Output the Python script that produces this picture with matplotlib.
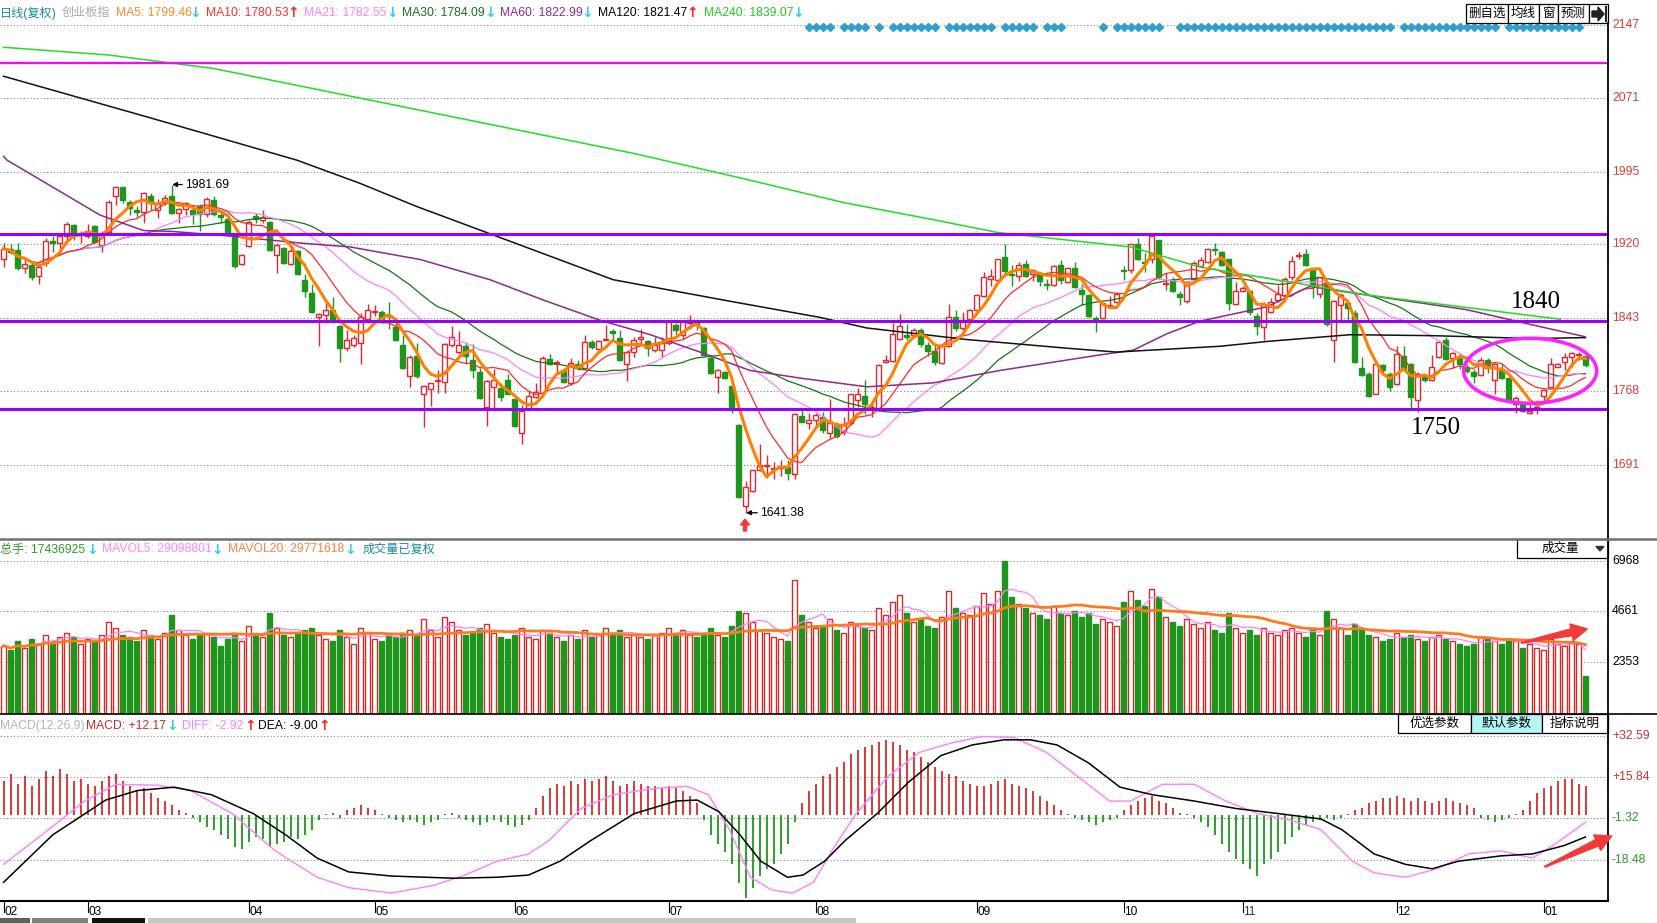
import numpy as np
import pandas as pd
import matplotlib
matplotlib.use('Agg')
import matplotlib.pyplot as plt
from matplotlib.patches import Rectangle, Ellipse, Polygon

plt.rcParams['font.family'] = ['Liberation Sans', 'Noto Sans CJK SC', 'DejaVu Sans']

W, H = 1657, 923

# daily bars, Feb .. Jan
open_ = [1905,1915,1914,1895,1898,1887,1900,1923,1921,1928,
         1940,1929,1928,1939,1919,1932,1970,1979,1964,1955,
         1953,1970,1955,1963,1970,1952,1956,1955,1959,1951,
         1966,1950,1946,1927,1899,1918,1949,1945,1943,1909,
         1916,1899,1913,1883,1869,1844,1846,1852,1835,1812,
         1815,1817,1842,1850,1850,1846,1834,1815,1783,1804,
         1764,1770,1778,1777,1815,1808,1814,1800,1787,1751,
         1772,1771,1779,1759,1724,1750,1761,1766,1801,1796,
         1789,1776,1796,1791,1818,1811,1821,1830,1823,1796,
         1808,1822,1819,1810,1810,1817,1836,1826,1838,1838,
         1833,1802,1782,1787,1773,1732,1648,1664,1686,1690,
         1687,1688,1689,1682,1742,1734,1738,1741,1724,1731,
         1725,1734,1758,1762,1749,1748,1798,1799,1822,1826,
         1826,1831,1815,1809,1797,1814,1844,1833,1842,1852,
         1866,1884,1883,1907,1889,1887,1899,1889,1889,1879,
         1878,1898,1881,1895,1872,1867,1843,1843,1856,1860,
         1893,1893,1920,1901,1905,1924,1879,1883,1868,1861,
         1884,1897,1901,1915,1912,1904,1858,1871,1871,1845,
         1834,1850,1862,1867,1886,1908,1910,1894,1868,1880,
         1821,1857,1859,1849,1791,1785,1765,1795,1785,1775,
         1804,1796,1758,1783,1779,1803,1820,1802,1804,1793,
         1787,1784,1800,1779,1790,1781,1754,1754,1745,1749,
         1762,1772,1793,1798,1803,1805,1804]
high = [1921,1920,1921,1903,1902,1900,1926,1928,1931,1943,
        1941,1933,1941,1940,1934,1966,1980,1979,1966,1959,
        1974,1973,1967,1971,1981.69,1957,1964,1960,1962,1969,
        1970,1952,1948,1928,1910,1945,1952,1955,1944,1921,
        1917,1919,1914,1889,1879,1848,1862,1865,1836,1831,
        1826,1848,1858,1857,1852,1860,1842,1826,1805,1817,
        1774,1776,1789,1817,1835,1830,1818,1816,1791,1779,
        1790,1776,1785,1760,1753,1768,1776,1804,1806,1800,
        1791,1802,1800,1826,1821,1820,1836,1832,1831,1809,
        1824,1832,1821,1824,1824,1839,1838,1840,1846,1838,
        1834,1805,1790,1788,1774,1733,1674,1686,1713,1701,
        1694,1696,1696,1745,1748,1745,1745,1746,1759,1735,
        1741,1765,1771,1779,1755,1796,1805,1838,1847,1837,
        1833,1833,1818,1815,1816,1858,1852,1850,1853,1868,
        1891,1894,1905,1920,1898,1901,1903,1894,1891,1884,
        1898,1903,1896,1901,1879,1868,1845,1859,1866,1870,
        1897,1920,1926,1911,1929,1924,1890,1886,1871,1882,
        1902,1907,1916,1921,1913,1905,1881,1877,1872,1848,
        1860,1864,1878,1886,1908,1912,1915,1895,1886,1881,
        1862,1869,1860,1852,1803,1787,1796,1796,1787,1814,
        1814,1797,1787,1785,1805,1819,1824,1808,1807,1796,
        1790,1803,1802,1797,1796,1782,1762,1756,1758,1758,
        1770,1802,1797,1807,1808,1808,1805]
low = [1896,1910,1893,1890,1883,1879,1897,1912,1912,1924,
       1924,1921,1926,1921,1912,1929,1960,1963,1950,1948,
       1942,1955,1947,1960,1951,1942,1950,1941,1933,1948,
       1949,1942,1930,1895,1898,1917,1942,1942,1913,1890,
       1899,1898,1888,1865,1848,1814,1838,1838,1798,1809,
       1813,1796,1838,1845,1838,1832,1819,1790,1772,1781,
       1730,1752,1766,1766,1813,1806,1796,1781,1759,1731,
       1747,1757,1764,1730,1713,1749,1760,1765,1795,1786,
       1776,1774,1789,1790,1811,1807,1821,1819,1799,1778,
       1803,1815,1804,1808,1803,1815,1826,1822,1832,1831,
       1804,1785,1766,1780,1745,1657,1641.38,1663,1685,1677,
       1676,1679,1675,1676,1735,1728,1731,1724,1719,1719,
       1722,1732,1751,1744,1741,1747,1797,1798,1821,1820,
       1824,1813,1804,1795,1796,1813,1830,1831,1841,1851,
       1865,1876,1882,1887,1876,1882,1886,1882,1877,1872,
       1876,1879,1880,1874,1857,1843,1829,1842,1854,1859,
       1883,1890,1903,1891,1900,1884,1872,1870,1857,1859,
       1882,1897,1900,1909,1897,1852,1857,1870,1846,1826,
       1821,1848,1860,1866,1883,1904,1897,1864,1864,1835,
       1798,1841,1841,1797,1783,1761,1764,1784,1768,1774,
       1789,1750,1746,1777,1778,1802,1800,1791,1790,1786,
       1776,1783,1786,1765,1780,1757,1745,1746,1744,1744,
       1756,1771,1792,1789,1793,1800,1793]
close = [1915,1912,1895,1899,1886,1896,1923,1921,1928,1941,
         1928,1930,1934,1922,1929,1964,1979,1966,1957,1953,
         1973,1963,1962,1968,1952,1956,1963,1951,1951,1967,
         1951,1948,1931,1897,1909,1943,1946,1948,1914,1919,
         1900,1913,1889,1871,1850,1847,1852,1841,1812,1820,
         1823,1844,1852,1851,1842,1845,1820,1791,1803,1783,
         1773,1776,1779,1816,1824,1815,1804,1789,1760,1778,
         1779,1761,1765,1731,1747,1762,1767,1802,1796,1798,
         1777,1797,1791,1818,1813,1819,1822,1828,1800,1808,
         1821,1824,1812,1815,1817,1839,1831,1839,1841,1836,
         1805,1786,1789,1781,1748,1658,1668,1686,1691,1691,
         1688,1689,1683,1744,1736,1738,1743,1727,1734,1721,
         1733,1764,1765,1754,1751,1795,1800,1827,1835,1824,
         1831,1816,1809,1798,1815,1844,1833,1841,1852,1867,
         1886,1887,1904,1892,1888,1898,1887,1893,1882,1878,
         1897,1883,1895,1875,1868,1845,1842,1859,1857,1868,
         1892,1920,1904,1900,1928,1886,1880,1871,1865,1881,
         1900,1903,1915,1914,1898,1859,1871,1874,1850,1835,
         1857,1860,1868,1884,1902,1909,1898,1877,1886,1837,
         1861,1867,1854,1798,1784,1762,1796,1789,1772,1806,
         1790,1761,1785,1779,1793,1818,1801,1807,1796,1788,
         1783,1800,1791,1796,1781,1758,1760,1747,1747,1751,
         1769,1796,1796,1803,1807,1805.4,1795]

# volume, 10k lots
volume = [3100,2900,3300,3000,3400,3200,3600,3300,3500,3700,
          3500,3200,3400,3300,3600,4200,3900,3600,3500,3300,
          3800,3600,3400,3700,4500,3800,3600,3400,3600,3700,
          3500,3100,3400,3700,3300,4000,3700,3500,4600,3900,
          3600,3500,3700,3800,3900,3600,3400,3300,3800,3500,
          3200,3900,3700,3400,3300,3600,3500,3700,3800,3600,
          4300,3800,3500,4400,4200,3800,3600,3700,3900,4100,
          3700,3500,3400,3600,3900,3500,3400,3800,3700,3500,
          3300,3600,3400,3800,3500,3600,3900,3700,3800,3500,
          3600,3500,3400,3600,3700,3900,3700,3800,3600,3500,
          3700,3900,3600,3500,4000,4700,4600,4200,3800,3700,
          3500,3400,3300,6100,4500,4200,3900,4000,4300,3800,
          3700,4200,4000,3900,3800,4800,4500,5100,5400,4600,
          4200,4300,4000,3900,4400,5600,4800,4600,4500,4900,
          5500,5000,5600,6968,5300,5000,4800,4600,4500,4300,
          4900,4600,4500,4700,4400,4600,4100,4300,4200,4000,
          5100,5600,5200,4900,5700,5300,4400,4200,4000,4300,
          4100,3900,4200,3800,3700,4600,3900,3700,3800,3600,
          3900,3700,3600,3800,3900,3700,3500,3900,3600,4700,
          4300,3900,3600,4100,3800,3600,3500,3300,3400,3700,
          3500,3600,3400,3300,3500,3600,3400,3300,3200,3100,
          3200,3500,3400,3300,3200,3400,3300,3000,3200,3000,
          2900,3400,3200,3100,3300,3200,1744]

macd_hist = [14,17,13,16,12,15,18,16,19,17,
             14,15,13,12,14,16,17,14,12,10,
             11,9,7,6,4,2,1,-1,-3,-5,
             -6,-8,-10,-13,-14,-11,-9,-10,-13,-12,
             -11,-9,-10,-8,-6,-2,0.5,1,-1,2,
             3,4,3,2,0.5,-1,-2,-3,-2,-3,
             -4,-3,-2,0.5,1,-1,-2,-3,-4,-3,
             -2,-3,-4,-5,-4,-2,3,8,11,13,
             12,14,13,15,14,15,16,14,12,13,
             14,13,12,12,11,12,11,10,8,5,
             -2,-8,-12,-15,-20,-28,-34,-30,-25,-22,
             -20,-16,-12,-3,5,10,13,16,17,20,
             22,25,27,28,29,30,31,30,29,27,
             26,24,22,20,18,17,16,14,13,12,
             12,13,14,15,13,12,11,10,8,6,
             4,2,0.5,-1,-2,-3,-4,-3,-2,-1,
             2,4,6,7,8,6,5,3,1,0.5,
             -1,-3,-5,-8,-12,-15,-18,-20,-22,-25,
             -20,-18,-15,-12,-9,-6,-4,-3,-2,-1,
             -2,-1,0.5,2,3,5,6,7,7,8,
             7,6,7,6,5,6,7,6,5,4,
             3,-1,-2,-3,-2,-1,0.5,2,6,9,
             11,12,14,15,15,13,12.17]

dea_x = [0,7.05,14.6,19.1,24.4,29.7,35.7,40.3,44.8,49.3,55.4,64.4,70.5,75,79.5,84,
         90.1,96.1,99.1,102.2,105.2,108.2,112,114.2,117.3,120.3,124.8,129.3,133.9,
         138.4,142.9,146.7,150.5,155,159.5,164.1,170.1,176.1,182.2,188.2,191.2,195.8,
         200.3,204.1,207.8,213.9,218.4,223,226]
dea_y = [-27.7,-8.1,6.2,10.1,11.5,8.4,0.6,-8.1,-17.7,-23.4,-25.1,-26,-25.6,-24.7,-19,-10.3,
         0.6,5.8,6.2,1.4,-8.1,-19,-25.6,-24.7,-19,-10.3,0.6,13.6,24.5,
         28.9,31,31,28.9,21.5,11.5,8.4,5.8,2.7,0.6,-1.6,-6,-16,
         -20.3,-22.1,-19,-16.8,-16,-12.5,-9.0]
diff_x = [0,5.5,11.6,16.1,22.1,26.7,32.7,38.8,44.8,49.3,55.4,61.4,65.9,70.5,75,78,
          82.5,87.1,93.1,97.6,100.7,103.7,106.7,109.7,112.7,115.7,118.8,121.8,126.3,
          130.8,135.4,139.9,144.4,149,153.5,158,161,165.6,170.1,174.6,179.2,183.7,
          188.2,192.7,195.8,200.3,204.8,209.3,213.9,218.4,221.4,226]
diff_y = [-20.3,-8.1,5.8,12.7,12.3,10.1,0.6,-14.7,-25.6,-29.9,-32.1,-29,-24.7,-19,-16,-10.3,
          2.7,8.4,11,11.9,8.4,-6,-25.6,-30.8,-32.1,-27.7,-12.5,0.6,15.8,
          25.8,29.7,32.4,31.9,25.8,15.8,5.8,5.8,12.7,12.7,5.8,0.6,-2,
          -6,-19,-23.8,-25.6,-22.1,-16,-14.7,-17.7,-12.5,-2.92]

# long averages
ma60_x = [0,0.5,13.8,20,24.2,32.8,42.4,49.5,59.5,69.5,77.1,85.2,92.4,99.5,106.6,113.8,
          123.3,132.8,142.4,156.6,161.4,166.2,170.9,180.5,186.6,194.8,209,218.5,225.9]
ma60_y = [2011,2007,1950,1934,1933,1928,1921,1917,1904,1883,1862,1841,1826,1808,1789,1781,
          1772,1776,1789,1805,1810,1827,1840,1855,1876,1867,1852,1836,1824]
ma120_x = [0,20.9,41.9,50.9,59,73.8,87.1,104.3,116.6,123.3,137.6,151.9,159,173.8,180.5,
           192.4,204.2,218.5,226]
ma120_y = [2094,2051,2007,1983,1959,1919,1883,1860,1844,1833,1821,1812,1808,1814,1819,
           1826,1825,1822,1823]
ma240_x = [0,15,30,45,60,75,90,105,120,133,142,161,171,195,222.4]
ma240_y = [2124,2116,2102,2080,2058,2036,2014,1989,1963,1945,1932,1917,1896,1867,1842]

levels = [1930, 1840, 1749]
top_level = 2107.7
price_ticks = [2147, 2071, 1995, 1920, 1843, 1768, 1691]
vol_ticks = [6968, 4661, 2353]
macd_ticks = [32.59, 15.84, -1.32, -18.48]
months = ['02','03','04','05','06','07','08','09','10','11','12','01']
month_start = [0,12,35,53,73,95,116,139,160,177,199,220]
flag_bars = (list(range(115,119)) + list(range(120,124)) + [125] + list(range(127,134)) +
             list(range(135,142)) + list(range(143,148)) + list(range(149,152)) + [157] +
             list(range(159,166)) + list(range(168,199)) + list(range(200,214)) +
             list(range(215,226)))

o = np.array(open_, float); h = np.array(high, float)
l = np.array(low, float); c = np.array(close, float)
n = len(c)
idx = np.arange(n)
up = c >= o

RED = '#e0282e'
GREEN = '#1e961e'


def box(x0, y0, x1, y1):
    return [x0 / W, 1 - y1 / H, (x1 - x0) / W, (y1 - y0) / H]


def fpt(x, y):
    return (x / W, 1 - y / H)


def price_y(p):
    return 318.3 + (1843 - p) * 0.9645


def price_at(y):
    return 1843 - (y - 318.3) / 0.9645


fig = plt.figure(figsize=(W / 100, H / 100), dpi=100)
fig.patch.set_facecolor('white')

xlim = (-0.5, (1608 - 3.5) / 7)
ax = fig.add_axes(box(0, 0, 1608, 539))
axv = fig.add_axes(box(0, 539, 1608, 714))
axm = fig.add_axes(box(0, 714, 1608, 901))
for a in (ax, axv, axm):
    a.set_xlim(*xlim)
    a.axis('off')
ax.set_ylim(price_at(539), price_at(0))
axv.set_ylim(0, (714.1 - 539) / 0.022015)
axm.set_ylim(-(901 - 815.1) / 2.428, (815.1 - 714) / 2.428)

dot = (0, (1, 2))
for p in price_ticks:
    ax.axhline(p, color='#888888', lw=0.8, ls=dot, zorder=0)
for v in vol_ticks:
    axv.axhline(v, color='#888888', lw=0.8, ls=dot, zorder=0)
for v in macd_ticks:
    axm.axhline(v, color='#888888', lw=0.8, ls=dot, zorder=0)

# candles
blo = np.minimum(o, c)
bhi = np.maximum(o, c)
bh = np.maximum(bhi - blo, 0.7)
ax.vlines(idx[up], bhi[up], h[up], color=RED, lw=1, zorder=2)
ax.vlines(idx[up], l[up], blo[up], color=RED, lw=1, zorder=2)
ax.vlines(idx[~up], l[~up], h[~up], color=GREEN, lw=1, zorder=2)
ax.bar(idx[up], bh[up], bottom=blo[up], width=0.7, facecolor='white', edgecolor=RED, lw=1, zorder=2)
ax.bar(idx[~up], bh[~up], bottom=blo[~up], width=0.7, color=GREEN, edgecolor=GREEN, lw=1, zorder=2)

s = pd.Series(c)
ax.plot(idx, s.rolling(30, min_periods=1).mean(), color='#117711', lw=0.9, zorder=3)
ax.plot(idx, s.rolling(21, min_periods=1).mean(), color='#ff80ff', lw=0.9, zorder=3)
ax.plot(idx, s.rolling(10, min_periods=1).mean(), color='#ff2a2a', lw=0.9, zorder=3)
ax.plot(ma60_x, ma60_y, color='#8b2a8b', lw=1.1, zorder=3)
ax.plot(ma120_x, ma120_y, color='#111111', lw=1.1, zorder=3)
ax.plot(ma240_x, ma240_y, color='#22dd22', lw=1.1, zorder=3)
ax.plot(idx, s.rolling(5, min_periods=1).mean(), color='#ff8000', lw=2.2, zorder=4)

for lv in levels:
    ax.axhline(lv, color='#9900ff', lw=2.2, zorder=5)
ax.axhline(top_level, color='#ff00ff', lw=1.6, zorder=5)

ax.plot(flag_bars, [price_at(27)] * len(flag_bars), ls='none', marker='D', ms=4.2,
        color='#2f9fd0', zorder=6, clip_on=False)

ax.add_patch(Ellipse((218.1, 1788.6), 19.0, 67.4, fill=False, edgecolor='#ff22ff', lw=2.6, zorder=6))
ax.text((1511 - 3.5) / 7, price_at(302), '1840', family='Liberation Serif', fontsize=18,
        va='center', ha='left', zorder=7)
ax.text((1411 - 3.5) / 7, price_at(428), '1750', family='Liberation Serif', fontsize=18,
        va='center', ha='left', zorder=7)

hi_i = int(np.argmax(h))
lo_i = int(np.argmin(l))
ax.annotate('%.2f' % h[hi_i], xy=(hi_i + 0.1, h[hi_i]), xytext=((185 - 3.5) / 7, h[hi_i]),
            va='center', ha='left', fontsize=8.8,
            arrowprops=dict(arrowstyle='-|>', color='black', lw=0.9, mutation_scale=7, shrinkA=0, shrinkB=0))
ax.annotate('%.2f' % l[lo_i], xy=(lo_i + 0.1, l[lo_i]), xytext=((760 - 3.5) / 7, l[lo_i]),
            va='center', ha='left', fontsize=8.8,
            arrowprops=dict(arrowstyle='-|>', color='black', lw=0.9, mutation_scale=7, shrinkA=0, shrinkB=0))

# volume
vol = np.array(volume, float)
axv.bar(idx[up], vol[up], width=0.72, facecolor='white', edgecolor='#d42a2a', lw=1, zorder=2)
axv.bar(idx[~up], vol[~up], width=0.72, color=GREEN, edgecolor=GREEN, lw=1, zorder=2)
sv = pd.Series(vol)
axv.plot(idx, sv.rolling(5, min_periods=1).mean(), color='#ff80ff', lw=0.9, zorder=3)
axv.plot(idx, sv.rolling(20, min_periods=1).mean(), color='#ff7a1a', lw=2.0, zorder=4)

# macd
mh = np.array(macd_hist, float)
axm.vlines(idx[mh >= 0], 0, mh[mh >= 0], color='#d42a2a', lw=1.3, zorder=2)
axm.vlines(idx[mh < 0], 0, mh[mh < 0], color='#1e961e', lw=1.3, zorder=2)
axm.plot(diff_x, diff_y, color='#ff80ff', lw=1.0, zorder=3)
axm.plot(dea_x, dea_y, color='black', lw=1.1, zorder=3)


def ftext(x, y, s, color='black', size=8.7, **kw):
    fig.text(x / W, 1 - y / H, s, color=color, fontsize=size, va='center', ha='left', **kw)


def farrow(x, y, s, color):
    fig.text(x / W, 1 - y / H, s, color=color, fontsize=10, va='center', ha='left',
             family='DejaVu Sans', fontweight='bold')


CY = '#33ccee'
UPR = '#ff2020'
header = [(0, '日线(复权)', '#1a8a9a'), (62, '创业板指', '#a8a8a8'),
          (116, 'MA5: 1799.46', '#ff8a2a'), (205.5, 'MA10: 1780.53', '#ff3030'),
          (304, 'MA21: 1782.55', '#ff80ff'), (402, 'MA30: 1784.09', '#1a6e1a'),
          (499.5, 'MA60: 1822.99', '#8e2a8e'), (598, 'MA120: 1821.47', 'black'),
          (703.5, 'MA240: 1839.07', '#22cc22')]
for x, t, col in header:
    ftext(x, 13, t, col)
for x, t, col in [(189, '↓', CY), (287.5, '↑', UPR), (386, '↓', CY), (484, '↓', CY),
                  (581, '↓', CY), (686.5, '↑', UPR), (792, '↓', CY)]:
    farrow(x, 13, t, col)

vhead = [(0, '总手: 17436925', '#2a9a2a'), (102.5, 'MAVOL5: 29098801', '#ff88ff'),
         (227.5, 'MAVOL20: 29771618', '#ff8040'), (362.5, '成交量已复权', '#1a8a9a')]
for x, t, col in vhead:
    ftext(x, 549.5, t, col)
for x, t, col in [(86, '↓', CY), (211, '↓', CY), (344, '↓', CY)]:
    farrow(x, 549.5, t, col)

mhead = [(0, 'MACD(12,26,9)', '#b4b4b4'), (86, 'MACD: +12.17', '#b83030'),
         (181.7, 'DIFF: -2.92', '#ff80ff'), (258, 'DEA: -9.00', 'black')]
for x, t, col in mhead:
    ftext(x, 726, t, col)
for x, t, col in [(166, '↓', CY), (244, '↑', UPR), (318, '↑', UPR)]:
    farrow(x, 726, t, col)

# right scale
for p in price_ticks:
    ftext(1612, price_y(p), str(p), '#e03a3a', 8.8)
for v in vol_ticks:
    ftext(1612, 714.1 - v * 0.022015, str(v), 'black', 8.8)
for v, col in zip(macd_ticks, ['#cc3333', '#cc3333', '#2a9a2a', '#2a9a2a']):
    ftext(1612, 815.1 - v * 2.428, '%+.2f' % v, col, 8.8)


# frame lines
def fline(xs, ys, color='black', lw=1.0):
    fig.add_artist(plt.Line2D([x / W for x in xs], [1 - y / H for y in ys], color=color, lw=lw))


fline([1608, 1608], [23, 901], 'black', 1.3)
fline([0, W], [539, 539], '#707070', 1.8)
fline([0, W], [714, 714], 'black', 1.2)
fline([0, 1608], [901, 901], 'black', 1.5)

for m, b in zip(months, month_start):
    xp = 3.5 + 7 * b
    fline([xp, xp], [901, 912], 'black', 0.8)
    ftext(xp + 1, 912, m, '#3a2a6a' if m == '11' else 'black', 8.6)

# buttons
for x0, x1, t in [(1466, 1508, '删自选'), (1508, 1539, '均线'), (1539, 1558, '窗'), (1558, 1589, '预测')]:
    fig.add_artist(Rectangle(fpt(x0, 23.3), (x1 - x0) / W, 19.3 / H, transform=fig.transFigure,
                             facecolor='white', edgecolor='black', lw=0.9))
    fig.text(((x0 + x1) / 2) / W, 1 - 14 / H, t, fontsize=9, ha='center', va='center')
fig.add_artist(Rectangle(fpt(1589, 23.3), 19 / W, 19.3 / H, transform=fig.transFigure,
                         facecolor='white', edgecolor='black', lw=0.9))
fig.add_artist(Polygon([fpt(1592, 11), fpt(1598, 11), fpt(1598, 7), fpt(1604, 14), fpt(1598, 21),
                        fpt(1598, 17), fpt(1592, 17)], closed=True, transform=fig.transFigure,
                       color='#222222'))
fline([1605.5, 1605.5], [7, 21], '#222222', 1.5)

fig.add_artist(Rectangle(fpt(1516.7, 558.3), 91.3 / W, 19 / H, transform=fig.transFigure,
                         facecolor='white', edgecolor='black', lw=0.9))
fig.text(1560 / W, 1 - 549 / H, '成交量', fontsize=9, ha='center', va='center')
fig.add_artist(Polygon([fpt(1596, 546.5), fpt(1604, 546.5), fpt(1600, 551)], closed=True,
                       transform=fig.transFigure, color='#333333'))

for x0, x1, t, bg in [(1398, 1470.7, '优选参数', 'white'), (1470.7, 1542.3, '默认参数', '#b4f6f6'),
                      (1542.3, 1608, '指标说明', 'white')]:
    fig.add_artist(Rectangle(fpt(x0, 733), (x1 - x0) / W, 19 / H, transform=fig.transFigure,
                             facecolor=bg, edgecolor='black', lw=0.9))
    fig.text(((x0 + x1) / 2) / W, 1 - 724 / H, t, fontsize=9, ha='center', va='center')


def block_arrow(tail, tip, w_tail=1.0, w_neck=7.0, head_len=16, head_w=17):
    tail = np.array(tail, float)
    tip = np.array(tip, float)
    d = tip - tail
    u = d / np.hypot(*d)
    nv = np.array([-u[1], u[0]])
    neck = tip - u * head_len
    pts = [tail + nv * w_tail / 2, neck + nv * w_neck / 2, neck + nv * head_w / 2, tip,
           neck - nv * head_w / 2, neck - nv * w_neck / 2, tail - nv * w_tail / 2]
    fig.add_artist(Polygon([fpt(*p) for p in pts], closed=True, transform=fig.transFigure,
                           color='#f23a3a', zorder=10))


block_arrow((1521.7, 642.7), (1587.3, 629))
block_arrow((1545, 866.7), (1611.7, 836))
block_arrow((745, 531), (745, 519), w_tail=3, w_neck=3, head_len=6, head_w=9)

# bottom tab strip
for x0, x1, col in [(0, 29.6, '#606060'), (31.7, 87.7, '#808080'), (92, 144.8, '#111111'),
                    (148, 856, '#c8c8c8')]:
    fig.add_artist(Rectangle(fpt(x0, 923), (x1 - x0) / W, 5 / H, transform=fig.transFigure,
                             facecolor=col, edgecolor='none'))

fig.savefig('out.png', dpi=100, facecolor='white')
